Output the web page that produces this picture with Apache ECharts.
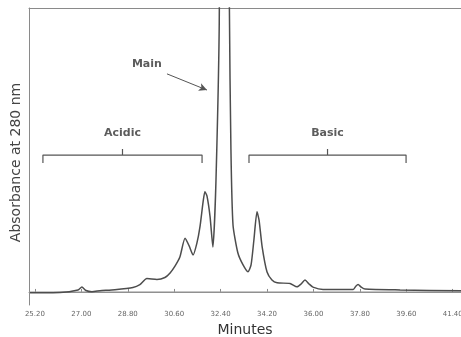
<!DOCTYPE html>
<html>
<head>
<meta charset="utf-8">
<script src="https://cdn.jsdelivr.net/npm/echarts@6/dist/echarts.min.js"></script>
<style>html,body{margin:0;padding:0;background:#fff}#c{width:461px;height:337px}</style>
</head>
<body>
<div id="c"></div>
<script>
// Retention time (minutes)
var times = [25.01,26.17,26.87,27.02,27.18,27.41,27.72,28.30,29.00,29.27,29.54,29.93,30.24,30.44,30.63,30.82,31.02,31.18,31.33,31.48,31.60,31.72,31.79,31.87,31.99,32.10,32.22,32.35,32.53,32.74,32.80,32.88,33.07,33.27,33.46,33.58,33.69,33.81,33.89,34.01,34.20,34.39,34.59,35.09,35.36,35.52,35.67,35.83,35.98,36.37,37.54,37.65,37.73,37.85,38.00,39.36,41.72];
// Absorbance at 280 nm (arbitrary units, main peak runs off scale)
var absorbance = [-0.3,-0.2,0.7,1.7,0.5,0.1,0.4,0.8,1.6,2.6,4.7,4.4,5.1,6.7,9.1,12.3,18.9,16.2,13.0,17.2,23.0,31.7,35.3,33.8,26.5,15.8,39.4,100,900,100,50,23.6,13.7,9.5,7.1,9.5,18.3,28.2,25.3,15.9,7.0,4.2,3.2,3.0,1.8,2.8,4.2,2.8,1.7,0.9,0.9,2.1,2.6,1.7,1.0,0.7,0.4];
// Axis tick labels
var tickValues = [25.20,27.00,28.80,30.60,32.40,34.20,36.00,37.80,39.60,41.40];
// Region brackets [start, end] in minutes
var acidicRange = [25.51, 31.68];
var basicRange = [33.50, 39.59];
var regionNames = ['Acidic', 'Basic'];

var xMin = 24.97, xMax = 41.72, yMin = -4.6, yMax = 100;
var bLow = 45.4, bLevel = 48.2, bTop = 50.3;

function bracket(r) {
  var m = (r[0] + r[1]) / 2;
  return [[r[0], bLow], [r[0], bLevel], [m, bLevel], [m, bTop], [m, bLevel], [r[1], bLevel], [r[1], bLow]];
}
var signal = times.map(function (t, i) { return [t, absorbance[i]]; });
var font = 'DejaVu Sans';

var chart = echarts.init(document.getElementById('c'), null, {renderer: 'canvas'});
chart.setOption({
  animation: false,
  backgroundColor: '#fff',
  grid: {left: 29, right: 0, top: 8, bottom: 32, outerBoundsMode: 'none', containLabel: false},
  xAxis: [{
    type: 'value', min: xMin, max: xMax,
    name: 'Minutes', nameLocation: 'middle', nameGap: 17,
    nameTextStyle: {fontFamily: font, fontSize: 14, color: '#333'},
    axisLine: {lineStyle: {color: '#8a8a8a', width: 1}},
    axisTick: {show: true, inside: true, length: 3, customValues: tickValues, lineStyle: {color: '#8a8a8a'}},
    axisLabel: {customValues: tickValues, fontFamily: font, fontSize: 7, color: '#666', margin: 6,
      hideOverlap: false,
      formatter: function (v) { return v.toFixed(2); }},
    splitLine: {show: false}
  }, {
    type: 'value', min: xMin, max: xMax, position: 'top',
    axisLine: {show: true, lineStyle: {color: '#8a8a8a', width: 1}},
    axisTick: {show: false}, axisLabel: {show: false}, splitLine: {show: false}
  }],
  yAxis: {
    type: 'value', min: yMin, max: yMax,
    name: 'Absorbance at 280 nm', nameLocation: 'middle', nameGap: 6,
    nameTextStyle: {fontFamily: font, fontSize: 14, color: '#444', padding: [0, 12, 0, 0]},
    axisLine: {show: true, lineStyle: {color: '#8a8a8a', width: 1}},
    axisTick: {show: false}, axisLabel: {show: false}, splitLine: {show: false}
  },
  series: [
    {type: 'line', data: [[xMin, 0], [xMax, 0]], symbol: 'none', silent: true,
      lineStyle: {color: '#9a9a9a', width: 1}},
    {type: 'line', data: signal, symbol: 'none', smooth: 0.2, silent: true, clip: true,
      lineStyle: {color: '#4d4d4d', width: 1.5}},
    {type: 'line', data: bracket(acidicRange), symbol: 'none', silent: true,
      lineStyle: {color: '#555', width: 1.2}},
    {type: 'line', data: bracket(basicRange), symbol: 'none', silent: true,
      lineStyle: {color: '#555', width: 1.2}},
    {type: 'scatter', symbolSize: 0, silent: true,
      data: [
        {name: 'Main', value: [29.54, 80.3]},
        {name: regionNames[0], value: [(acidicRange[0] + acidicRange[1]) / 2, 56.0]},
        {name: regionNames[1], value: [(basicRange[0] + basicRange[1]) / 2, 56.0]}
      ],
      label: {show: true, position: 'inside', formatter: '{b}', fontFamily: font, fontSize: 11,
        fontWeight: 'bold', color: '#333'},
      markLine: {silent: true, symbol: ['none', 'arrow'], symbolSize: [6, 8],
        lineStyle: {color: '#555', width: 1, type: 'solid'}, label: {show: false},
        data: [[{coord: [30.32, 76.8]}, {coord: [31.87, 71.1]}]]}
    }
  ]
});
</script>
</body>
</html>
